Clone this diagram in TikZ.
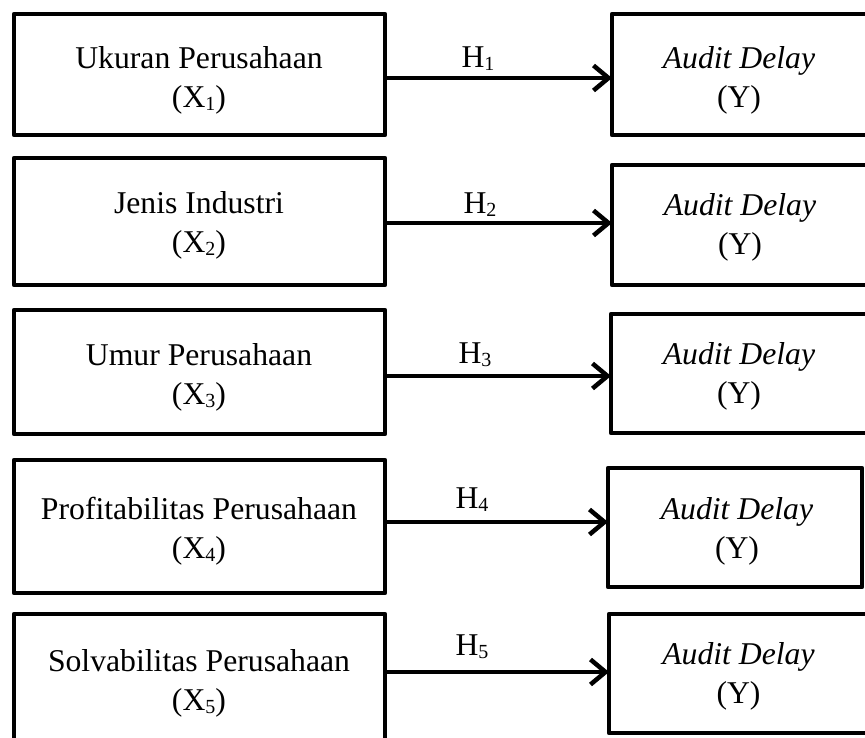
\documentclass[tikz,border=0pt]{standalone}
\usepackage{fontspec}
\setmainfont{Liberation Serif}
\usetikzlibrary{arrows.meta}

% subscript digit in the style of a word processor
\newcommand\lowsub[1]{\raisebox{-3pt}{\fontsize{20}{20}\selectfont #1}}

\tikzset{
  box/.style={draw=black, line width=4.8pt, line join=round, rectangle,
              inner sep=0pt, outer sep=0pt},
  txt/.style={align=center, inner sep=0pt,
              font=\fontsize{31.7}{39}\selectfont},
  lab/.style={inner sep=0pt, font=\fontsize{31.7}{39}\selectfont},
  link/.style={draw=black, line width=3.5pt,
               -{Straight Barb[length=15pt,width=25pt,line width=4.5pt]}},
}

\begin{document}
\begin{tikzpicture}[x=1pt,y=-1pt]
  \fill[white] (0,0) rectangle (865,738);
  \useasboundingbox (0,0) rectangle (865,738);

  % independent variables (left column)
  \node[box, minimum width=371pt, minimum height=121pt] (x1) at (199.5,74.5) {};
  \node[box, minimum width=371pt, minimum height=127pt] (x2) at (199.5,221.5) {};
  \node[box, minimum width=371pt, minimum height=124pt] (x3) at (199.5,372) {};
  \node[box, minimum width=371pt, minimum height=133pt] (x4) at (199.5,526.5) {};
  \node[box, minimum width=371pt, minimum height=136pt] (x5) at (199.5,682) {};

  \node[txt] (tx1) at (199,80)  {Ukuran Perusahaan\\(X\lowsub{1})};
  \node[txt] (tx2) at (199,225) {Jenis Industri\\(X\lowsub{2})};
  \node[txt] (tx3) at (199,377) {Umur Perusahaan\\(X\lowsub{3})};
  \node[txt] (tx4) at (199,531) {Profitabilitas Perusahaan\\(X\lowsub{4})};
  \node[txt] (tx5) at (199,683) {Solvabilitas Perusahaan\\(X\lowsub{5})};

  % dependent variable (right column)
  \node[box, minimum width=263pt, minimum height=121pt] (y1) at (743.5,74.5) {};
  \node[box, minimum width=263pt, minimum height=120pt] (y2) at (743.5,225) {};
  \node[box, minimum width=264pt, minimum height=119pt] (y3) at (743,373.5) {};
  \node[box, minimum width=254pt, minimum height=119pt] (y4) at (735,527.5) {};
  \node[box, minimum width=266pt, minimum height=119pt] (y5) at (742,673.5) {};

  \node[txt] (ty1) at (739,80)    {\textit{Audit Delay}\\(Y)};
  \node[txt] (ty2) at (740,227.5) {\textit{Audit Delay}\\(Y)};
  \node[txt] (ty3) at (739,376)   {\textit{Audit Delay}\\(Y)};
  \node[txt] (ty4) at (737,531)   {\textit{Audit Delay}\\(Y)};
  \node[txt] (ty5) at (738.5,676.5) {\textit{Audit Delay}\\(Y)};

  % hypothesis arrows
  \coordinate (s1) at (x1.east |- 0,78);
  \coordinate (s2) at (x2.east |- 0,223);
  \coordinate (s3) at (x3.east |- 0,376);
  \coordinate (s4) at (x4.east |- 0,522);
  \coordinate (s5) at (x5.east |- 0,672);

  \draw[link] (s1) -- (s1 -| y1.west);
  \draw[link] (s2) -- (s2 -| y2.west);
  \draw[link] (s3) -- (s3 -| y3.west);
  \draw[link] (s4) -- (s4 -| y4.west);
  \draw[link] (s5) -- (s5 -| y5.west);

  \node[lab, anchor=base] (h1) at (478,68)  {H\lowsub{1}};
  \node[lab, anchor=base] (h2) at (480,214) {H\lowsub{2}};
  \node[lab, anchor=base] (h3) at (475,363) {H\lowsub{3}};
  \node[lab, anchor=base] (h4) at (472,508) {H\lowsub{4}};
  \node[lab, anchor=base] (h5) at (472,655) {H\lowsub{5}};
\end{tikzpicture}
\end{document}
